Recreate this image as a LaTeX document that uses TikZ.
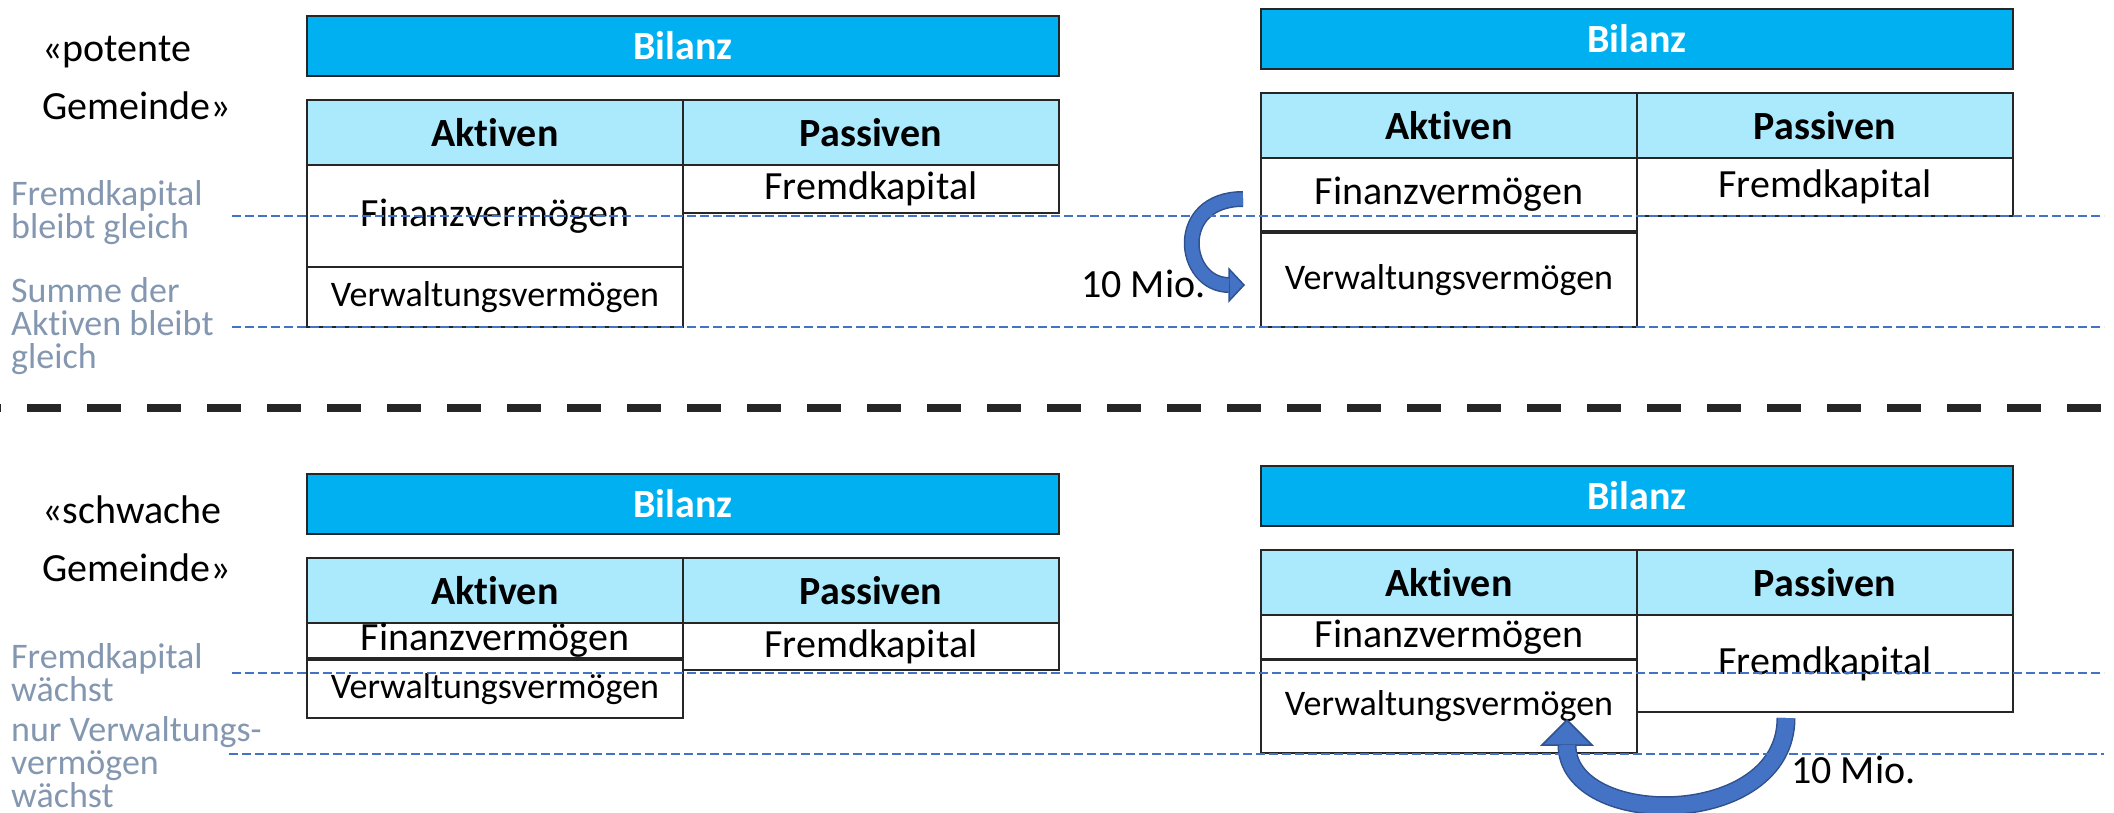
\documentclass[tikz,border=0pt]{standalone}
\usepackage{fontspec}
\setmainfont{Carlito}[Ligatures={TeX,NoCommon}]
\usepackage{xcolor}
\definecolor{cBar}{HTML}{00B0F0}
\definecolor{cHead}{HTML}{ABE9FC}
\definecolor{cNote}{HTML}{8497B0}
\definecolor{cGuide}{HTML}{4472C4}
\definecolor{cRule}{HTML}{262626}
\definecolor{cFlow}{HTML}{4472C4}
\definecolor{cFlowEdge}{HTML}{2F528F}
\usepackage{tikz}
\usetikzlibrary{positioning}
% tight line spacing for the grey side notes
\lineskiplimit=-50pt
\tikzset{
  bar-box/.style={draw=cRule,line width=1.5pt,fill=cBar,text=white,
    minimum width=752pt,minimum height=60pt,inner sep=0pt,outer sep=0pt,
    font=\fontsize{40}{48}\selectfont\bfseries},
  head-box/.style={draw=cRule,line width=1.5pt,fill=cHead,anchor=north west,
    minimum width=376pt,minimum height=65pt,inner sep=0pt,outer sep=0pt,
    font=\fontsize{40}{48}\selectfont\bfseries},
  cell-box/.style={draw=cRule,line width=1.5pt,fill=white,
    minimum width=376pt,inner sep=0pt,outer sep=0pt,
    font=\fontsize{40}{48}\selectfont},
  cell-small/.style={font=\fontsize{36}{44}\selectfont},
  % base = baseline of the last line
  group-label/.style={anchor=base west,align=left,inner sep=0pt,
    font=\fontsize{40}{58}\selectfont},
  note-label/.style={anchor=base west,align=left,inner sep=0pt,text=cNote,
    font=\fontsize{36}{33}\selectfont},
  amount-label/.style={anchor=base west,inner sep=0pt,
    font=\fontsize{40}{48}\selectfont},
  guide-line/.style={draw=cGuide,line width=2.5pt,dash pattern=on 9pt off 4pt},
  split-line/.style={draw=cRule,line width=8pt,
    dash pattern=on 34pt off 26pt,dash phase=33pt},
  flow-tip/.style={fill=cFlow,draw=cFlowEdge,line width=1.5pt,line join=miter},
  flow-rim/.style={draw=cFlowEdge},
  flow-core/.style={draw=cFlow},
}

\begin{document}
\begin{tikzpicture}[x=1pt,y=-1pt]
  \useasboundingbox (0,0) rectangle (2114,813);

  % header row and Bilanz bar of each balance sheet
  \foreach \g/\x/\y in {pl/307/100, pr/1261/93, sl/307/558, sr/1261/550} {
    \node[head-box] (\g-akt) at (\x,\y) {Aktiven};
    \node[head-box,right=0pt of \g-akt] (\g-pas) {Passiven};
    \node[bar-box,above=24pt of \g-akt.north east] (\g-bar) {Bilanz};
  }

  % potente Gemeinde, before
  \node[cell-box,minimum height=102pt,below=0pt of pl-akt] (pl-fv) {Finanzvermögen};
  \node[cell-box,cell-small,minimum height=60pt,below=0pt of pl-fv] (pl-vv) {Verwaltungsvermögen};
  \node[cell-box,minimum height=48pt,below=0pt of pl-pas] (pl-fk) {Fremdkapital};

  % potente Gemeinde, after
  \node[cell-box,minimum height=73pt,below=0pt of pr-akt] (pr-fv) {Finanzvermögen};
  \node[cell-box,cell-small,minimum height=94pt,below=2pt of pr-fv] (pr-vv) {Verwaltungsvermögen};
  \node[cell-box,minimum height=58pt,below=0pt of pr-pas] (pr-fk) {Fremdkapital};

  % schwache Gemeinde, before
  \node[cell-box,minimum height=35pt,below=0pt of sl-akt] (sl-fv) {Finanzvermögen};
  \node[cell-box,cell-small,minimum height=58pt,below=2pt of sl-fv] (sl-vv) {Verwaltungsvermögen};
  \node[cell-box,minimum height=47pt,below=0pt of sl-pas] (sl-fk) {Fremdkapital};

  % schwache Gemeinde, after
  \node[cell-box,minimum height=44pt,below=0pt of sr-akt] (sr-fv) {Finanzvermögen};
  \node[cell-box,cell-small,minimum height=93pt,below=1pt of sr-fv] (sr-vv) {Verwaltungsvermögen};
  \node[cell-box,minimum height=97pt,below=0pt of sr-pas] (sr-fk) {Fremdkapital};

  % labels on the left
  \node[group-label] (pl-name) at (42,120) {«potente\\Gemeinde»};
  \node[group-label] (sl-name) at (42,581) {«schwache\\Gemeinde»};
  \node[note-label] (pl-note1) at (11,238) {Fremdkapital\\bleibt gleich};
  \node[note-label] (pl-note2) at (11,368) {Summe der\\Aktiven bleibt\\gleich};
  \node[note-label] (sl-note1) at (11,701) {Fremdkapital\\wächst};
  \node[note-label] (sl-note2) at (11,807) {nur Verwaltungs-\\vermögen\\wächst};

  % 10 Mio. from Finanzvermögen into Verwaltungsvermögen
  \coordinate (m1-tail) at (1243,199);
  \coordinate (m1-head) at (1229,285);
  \draw[flow-tip] (1229,269) -- (1244,285) -- (1229,301) -- cycle;
  \draw[flow-rim,line width=16pt] (m1-tail) .. controls (1172,199) and (1182,285) .. (m1-head);
  \draw[flow-core,line width=13pt] (m1-tail) .. controls (1172,199) and (1182,285) .. (m1-head);
  \node[amount-label] (m1-amount) at (1081,297) {10 Mio.};

  % 10 Mio. new debt into Verwaltungsvermögen
  \coordinate (m2-tail) at (1786,718);
  \coordinate (m2-head) at (1567,745);
  \draw[flow-tip] (1542,745) -- (1567,720) -- (1592,745) -- cycle;
  \draw[flow-rim,line width=19pt] (m2-tail) .. controls (1786,830) and (1567,830) .. (m2-head);
  \draw[flow-core,line width=16pt] (m2-tail) .. controls (1786,830) and (1567,830) .. (m2-head);
  \node[amount-label] (m2-amount) at (1791,783) {10 Mio.};

  % guide lines
  \draw[guide-line] (232,216) -- (2104,216);
  \draw[guide-line] (232,327) -- (2104,327);
  \draw[guide-line] (232,673) -- (2104,673);
  \draw[guide-line] (229,754) -- (2104,754);

  \draw[split-line] (0,408) -- (2114,408);
\end{tikzpicture}
\end{document}
